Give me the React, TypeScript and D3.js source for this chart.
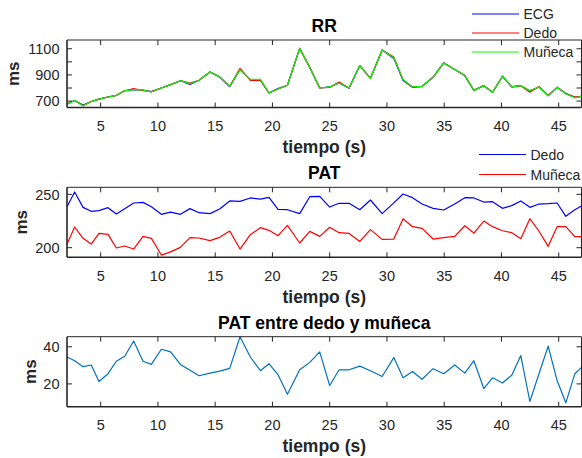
import React from "react";
import * as d3 from "d3";

// ---------- data ----------
const TIME = [
  2.06, 2.73, 3.46, 4.18, 4.85, 5.64, 6.37, 7.1, 7.88, 8.7,
  9.43, 10.3, 11.11, 11.96, 12.8, 13.59, 14.55, 15.39, 16.27, 17.17,
  18.07, 18.95, 19.7, 20.49, 21.31, 22.38, 23.26, 24.13, 25.0, 25.82,
  26.69, 27.63, 28.56, 29.58, 30.6, 31.41, 32.23, 33.07, 34.03, 34.96,
  35.92, 36.8, 37.59, 38.46, 39.22, 40.09, 40.9, 41.69, 42.48, 43.28,
  44.08, 44.86, 45.62, 46.41, 46.99,
];

const RR_ECG = [
  677, 705, 670, 697, 715, 731, 744, 779, 787, 785,
  772, 800, 826, 856, 828, 859, 923, 885, 810, 941,
  864, 862, 762, 795, 821, 1103, 955, 800, 808, 838,
  798, 972, 874, 1090, 1025, 858, 805, 813, 882, 992,
  941, 895, 782, 818, 767, 890, 808, 818, 778, 808,
  741, 805, 756, 728, 736,
];
const RR_DEDO = [
  680, 705, 664, 697, 715, 731, 744, 779, 795, 780,
  772, 800, 826, 856, 838, 859, 923, 885, 813, 950,
  858, 858, 762, 792, 821, 1103, 960, 800, 805, 845,
  800, 972, 874, 1090, 1036, 864, 808, 813, 882, 992,
  941, 895, 782, 818, 767, 890, 808, 818, 768, 812,
  744, 805, 760, 730, 736,
];
const RR_MUNECA = [
  677, 705, 664, 697, 715, 731, 744, 779, 787, 785,
  769, 800, 826, 856, 833, 859, 923, 885, 813, 941,
  866, 866, 762, 792, 821, 1103, 955, 800, 808, 838,
  800, 972, 874, 1090, 1031, 864, 808, 813, 882, 992,
  941, 895, 782, 818, 767, 890, 808, 818, 780, 808,
  741, 805, 756, 725, 736,
];

const PAT_DEDO = [
  238.4, 252.2, 237.8, 234.1, 234.7, 237.5, 231.6, 236.6, 241.9, 242.5,
  238.4, 231.3, 233.4, 231.3, 236.6, 232.8, 231.9, 236.3, 243.8, 243.4,
  246.6, 245.6, 247.2, 235.9, 235.6, 231.9, 247.8, 248.1, 238.1, 241.6,
  241.6, 235.6, 244.7, 231.9, 242.0, 250.3, 246.9, 240.9, 236.9, 235.3,
  240.9, 246.9, 246.6, 242.8, 243.1, 236.9, 239.4, 243.8, 237.8, 240.9,
  241.3, 241.9, 229.4, 235.6, 239.1,
];
const PAT_MUNECA = [
  203.4, 219.4, 208.8, 203.4, 213.4, 212.5, 199.7, 201.6, 198.75, 210.6,
  208.75, 193.1, 196.1, 200.3, 209.4, 209.1, 206.6, 209.7, 215.6, 198.75,
  212.2, 218.75, 216.25, 211.25, 220.9, 204.4, 215.3, 210.6, 219.1, 214.1,
  213.4, 205.9, 216.9, 207.8, 208.1, 227.2, 219.7, 218.1, 208.1, 209.5,
  210.6, 220.6, 213.75, 225.0, 219.7, 215.9, 214.1, 208.4, 227.2, 215.4,
  201.25, 219.7, 219.7, 210.3, 210.3,
];
const PAT_DIFF = [
  34.5, 32.5, 29.3, 30.2, 21.3, 25.5, 32.2, 34.9, 43.1, 32.2,
  30.5, 38.7, 37.3, 30.5, 27.4, 24.4, 25.8, 26.9, 28.4, 45.4,
  34.5, 27.1, 30.9, 24.9, 14.4, 27.6, 31.6, 37.3, 19.1, 27.6,
  27.6, 29.6, 27.1, 24.0, 34.2, 23.3, 26.7, 22.5, 28.2, 25.5,
  30.2, 25.8, 32.5, 17.5, 23.3, 20.5, 24.7, 35.3, 10.5, 25.5,
  40.4, 21.8, 9.8, 25.5, 28.9,
];

const X_TICKS = [5, 10, 15, 20, 25, 30, 35, 40, 45];
const RR_TICKS = [700, 800, 900, 1000, 1100];
const RR_LABELS = [700, 900, 1100];
const PAT_TICKS = [200, 250];
const DIFF_TICKS = [20, 40];

const TITLES = ["RR", "PAT", "PAT entre dedo y muñeca"];
const X_LABEL = "tiempo (s)";
const Y_LABEL = "ms";

// ---------- layout ----------
const W = 582;
const H = 458;
const LEFT = 67;
const RIGHT = 581.5;
const FONT = "'Liberation Sans', Arial, Helvetica, sans-serif";
const AX = "#262626";

type Series = { name: string; values: number[]; color: string };
type PanelCfg = {
  top: number;
  bottom: number;
  yDomain: [number, number];
  yTicks: number[];
  yLabels: number[];
  series: Series[];
  title: string;
  ylabelX: number;
  legend?: { x: number; y: number; step: number };
};

const panels: PanelCfg[] = [
  {
    top: 40,
    bottom: 107.5,
    yDomain: [651, 1167],
    yTicks: RR_TICKS,
    yLabels: RR_LABELS,
    series: [
      { name: "ECG", values: RR_ECG, color: "#0000ff" },
      { name: "Dedo", values: RR_DEDO, color: "#ff0000" },
      { name: "Muñeca", values: RR_MUNECA, color: "#00ff00" },
    ],
    title: TITLES[0],
    ylabelX: 13.3,
    legend: { x: 472, y: 14, step: 19 },
  },
  {
    top: 187.3,
    bottom: 257.3,
    yDomain: [191, 256.6],
    yTicks: PAT_TICKS,
    yLabels: PAT_TICKS,
    series: [
      { name: "Dedo", values: PAT_DEDO, color: "#0000ff" },
      { name: "Muñeca", values: PAT_MUNECA, color: "#ff0000" },
    ],
    title: TITLES[1],
    ylabelX: 21.3,
    legend: { x: 479, y: 154.5, step: 20 },
  },
  {
    top: 336.7,
    bottom: 406.7,
    yDomain: [7.7, 45.45],
    yTicks: DIFF_TICKS,
    yLabels: DIFF_TICKS,
    series: [{ name: "diff", values: PAT_DIFF, color: "#0072bd" }],
    title: TITLES[2],
    ylabelX: 29.7,
  },
];

const xExtent = d3.extent(TIME) as [number, number];
const x = d3.scaleLinear().domain(xExtent).range([LEFT, RIGHT]);

function Panel({ cfg }: { cfg: PanelCfg }) {
  const y = d3.scaleLinear().domain(cfg.yDomain).range([cfg.bottom, cfg.top]);
  const line = d3
    .line<number>()
    .x((_, i) => x(TIME[i]))
    .y((v) => y(v));
  const tl = 5;
  const midY = (cfg.top + cfg.bottom) / 2;
  const midX = (LEFT + RIGHT) / 2;
  return (
    <g>
      {cfg.series.map((s) => (
        <path
          key={s.name}
          d={line(s.values) || ""}
          fill="none"
          stroke={s.color}
          strokeWidth={1.2}
          strokeLinejoin="round"
        />
      ))}
      {/* box */}
      <line x1={LEFT} x2={RIGHT} y1={cfg.top} y2={cfg.top} stroke={AX} strokeWidth={1} />
      <line x1={RIGHT} x2={RIGHT} y1={cfg.top} y2={cfg.bottom} stroke={AX} strokeWidth={1} />
      <line x1={LEFT} x2={RIGHT} y1={cfg.bottom} y2={cfg.bottom} stroke={AX} strokeWidth={1.4} />
      <line x1={LEFT} x2={LEFT} y1={cfg.top} y2={cfg.bottom} stroke={AX} strokeWidth={1.6} />
      {/* x ticks */}
      {X_TICKS.map((t) => (
        <g key={"xt" + t}>
          <line x1={x(t)} x2={x(t)} y1={cfg.bottom} y2={cfg.bottom - tl} stroke={AX} />
          <line x1={x(t)} x2={x(t)} y1={cfg.top} y2={cfg.top + tl} stroke={AX} />
          <text
            x={x(t)}
            y={cfg.bottom + 23.5}
            textAnchor="middle"
            fontSize={14.5}
            fill={AX}
            fontFamily={FONT}
          >
            {t}
          </text>
        </g>
      ))}
      {/* y ticks */}
      {cfg.yTicks.map((t) => (
        <g key={"yt" + t}>
          <line x1={LEFT} x2={LEFT + tl} y1={y(t)} y2={y(t)} stroke={AX} />
          <line x1={RIGHT} x2={RIGHT - tl} y1={y(t)} y2={y(t)} stroke={AX} />
        </g>
      ))}
      {cfg.yLabels.map((t) => (
        <text
          key={"yl" + t}
          x={LEFT - 7.5}
          y={y(t)}
          dy="0.36em"
          textAnchor="end"
          fontSize={14.5}
          fill={AX}
          fontFamily={FONT}
        >
          {t}
        </text>
      ))}
      {/* title */}
      <text
        x={midX}
        y={cfg.top - 8}
        textAnchor="middle"
        fontSize={17.5}
        fontWeight="bold"
        fill="#000"
        fontFamily={FONT}
      >
        {cfg.title}
      </text>
      {/* x label */}
      <text
        x={midX}
        y={cfg.bottom + 45.5}
        textAnchor="middle"
        fontSize={17.5}
        fontWeight="bold"
        fill={AX}
        fontFamily={FONT}
      >
        {X_LABEL}
      </text>
      {/* y label */}
      <text
        transform={`translate(${cfg.ylabelX},${midY}) rotate(-90)`}
        dy="0.36em"
        textAnchor="middle"
        fontSize={17}
        fontWeight="bold"
        fill={AX}
        fontFamily={FONT}
      >
        {Y_LABEL}
      </text>
      {/* legend */}
      {cfg.legend &&
        cfg.series.map((s, i) => {
          const ly = cfg.legend!.y + i * cfg.legend!.step;
          const lx = cfg.legend!.x;
          return (
            <g key={"lg" + s.name}>
              <line x1={lx} x2={lx + 47} y1={ly} y2={ly} stroke={s.color} strokeWidth={1.2} />
              <text
                x={lx + 51.5}
                y={ly}
                dy="0.36em"
                fontSize={14}
                fill={AX}
                fontFamily={FONT}
              >
                {s.name}
              </text>
            </g>
          );
        })}
    </g>
  );
}

export default function App() {
  return (
    <svg
      width={W}
      height={H}
      style={{ position: "fixed", left: 0, top: 0, background: "#fff" }}
    >
      <rect x={0} y={0} width={W} height={H} fill="#fff" />
      {panels.map((p, i) => (
        <Panel key={i} cfg={p} />
      ))}
    </svg>
  );
}
